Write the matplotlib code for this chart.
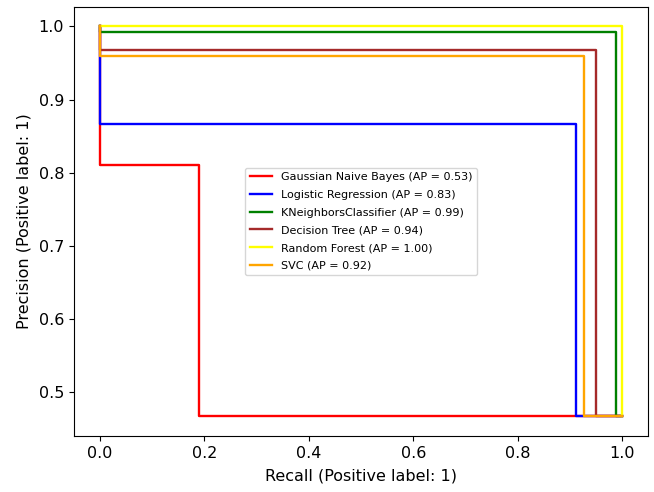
import numpy as np
import matplotlib
matplotlib.use('Agg')
import matplotlib.pyplot as plt

# precision-recall points (recall descending, as sklearn returns them)
labels = ['Gaussian Naive Bayes', 'Logistic Regression', 'KNeighborsClassifier',
          'Decision Tree', 'Random Forest', 'SVC']
ap = [0.53, 0.83, 0.99, 0.94, 1.00, 0.92]
colors = ['red', 'blue', 'green', 'brown', 'yellow', 'orange']

recall_nb = [1.0, 0.190, 0.0]
precision_nb = [0.467, 0.811, 1.0]
recall_lr = [1.0, 0.911, 0.0]
precision_lr = [0.467, 0.867, 1.0]
recall_knn = [1.0, 0.988, 0.0]
precision_knn = [0.467, 0.993, 1.0]
recall_dt = [1.0, 0.951, 0.0]
precision_dt = [0.467, 0.968, 1.0]
recall_rf = [1.0, 1.0, 0.0]
precision_rf = [0.467, 1.0, 1.0]
recall_svc = [1.0, 0.927, 0.0]
precision_svc = [0.467, 0.960, 1.0]

recalls = [recall_nb, recall_lr, recall_knn, recall_dt, recall_rf, recall_svc]
precisions = [precision_nb, precision_lr, precision_knn, precision_dt, precision_rf, precision_svc]

plt.rcParams['font.size'] = 11.5

fig = plt.figure(figsize=(6.54, 4.92), dpi=100)
ax = fig.add_axes([0.113, 0.114, 0.878, 0.872])

for i in range(len(labels)):
    ax.plot(recalls[i], precisions[i], drawstyle='steps-post', color=colors[i],
            linewidth=1.7, label=labels[i] + ' (AP = %.2f)' % ap[i])

ax.set_xlabel('Recall (Positive label: 1)', labelpad=6)
ax.set_ylabel('Precision (Positive label: 1)', labelpad=5.5)
ax.legend(loc='center', fontsize=8, labelspacing=0.7)

fig.savefig('out.png', dpi=100)
